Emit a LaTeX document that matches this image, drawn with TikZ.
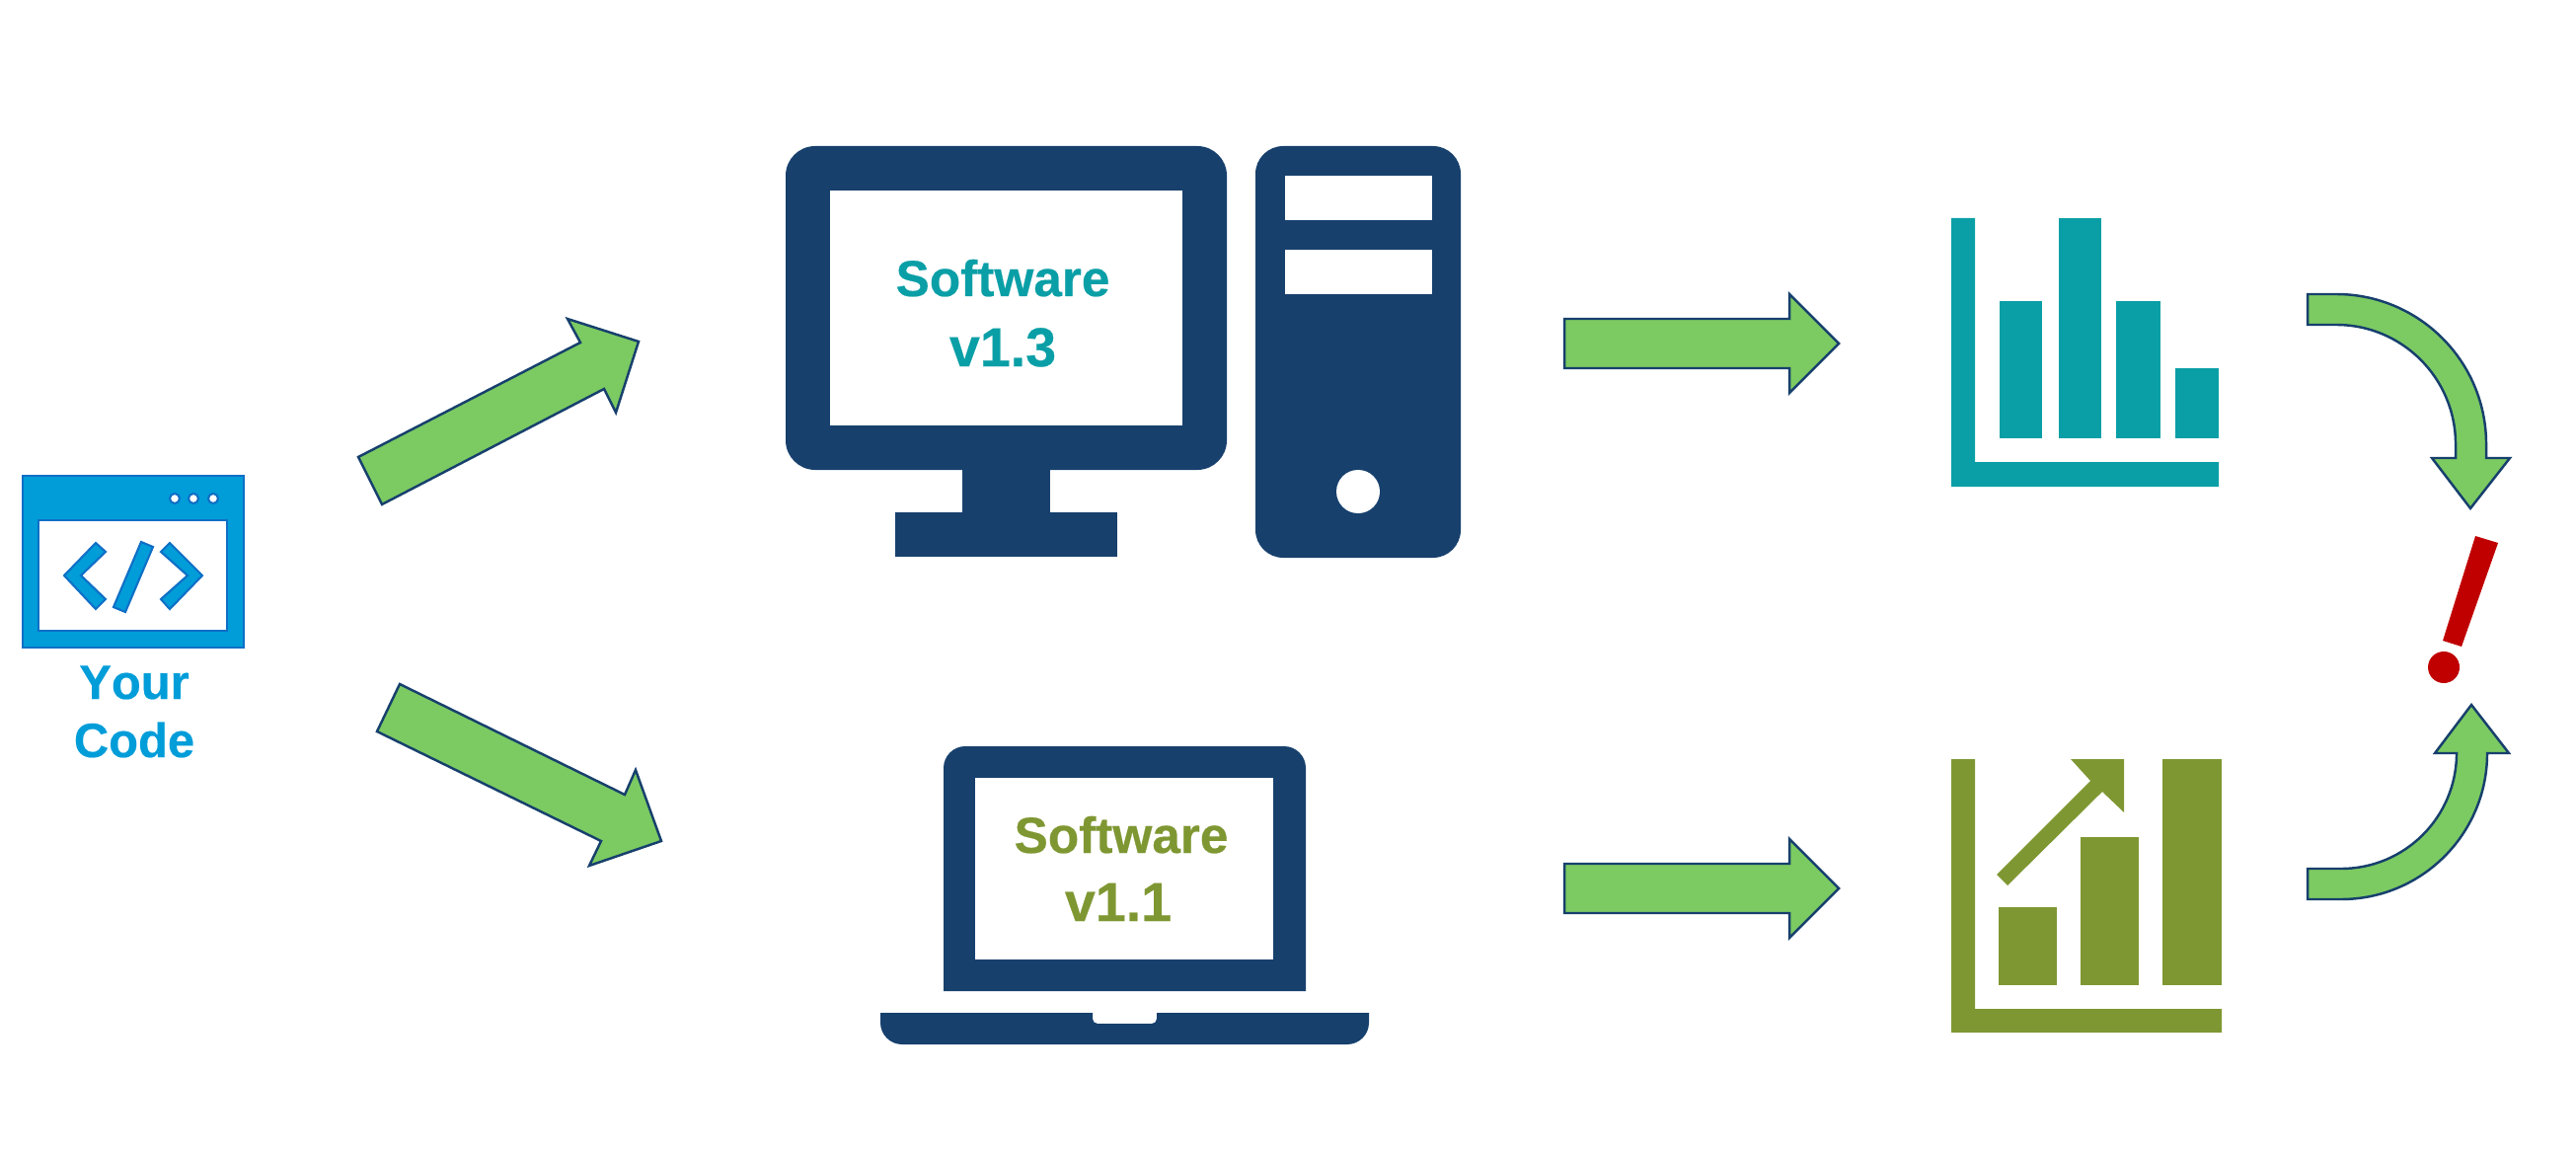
\documentclass[tikz,border=0pt]{standalone}
\usepackage{fontspec}
\setmainfont{Liberation Sans}
\definecolor{navy}{HTML}{17406D}
\definecolor{codeblue}{HTML}{009DD9}
\definecolor{edgeblue}{HTML}{0F6FC6}
\definecolor{teal}{HTML}{0A9FA6}
\definecolor{olive}{HTML}{7F9732}
\definecolor{arrowgreen}{HTML}{7CCA62}
\definecolor{alarmred}{HTML}{C00000}
\tikzset{
  blockarrow/.style={fill=arrowgreen,draw=navy,line width=0.7pt,line join=miter},
  icon/.style={fill=navy,draw=none},
  hole/.style={fill=white,draw=none},
  codepart/.style={fill=codeblue,draw=edgeblue,line width=0.6pt},
  softtxt/.style={inner sep=0pt,anchor=base,font=\fontsize{14.6}{17}\selectfont\bfseries\addfontfeatures{FakeBold=0.4}},
  vertxt/.style={inner sep=0pt,anchor=base,font=\fontsize{15.8}{17}\selectfont\bfseries\addfontfeatures{FakeBold=0.4}},
  codetxt/.style={inner sep=0pt,anchor=base,text=codeblue,font=\fontsize{13.9}{17}\selectfont\bfseries\addfontfeatures{FakeBold=0.4,Kerning=Off}}
}
\begin{document}
\begin{tikzpicture}[x=0.01cm,y=-0.01cm]
  \useasboundingbox (0,0) rectangle (2610,1164);
  % code window
  \draw[codepart] (23,482) rectangle (247,656);
  \draw[hole,draw=edgeblue,line width=0.6pt] (39,527) rectangle (230,639);
  \foreach \dotx in {177,196,216}
    \draw[fill=white,draw=edgeblue,line width=0.6pt] (\dotx,505) circle (5);
  \draw[codepart] (97,550) -- (107,559) -- (82,583) -- (107,607) -- (97,617) -- (65,583) -- cycle;
  \draw[codepart] (143,549) -- (155,554) -- (127,620) -- (115,615) -- cycle;
  \draw[codepart] (172,550) -- (205,583) -- (172,617) -- (163,607) -- (190,583) -- (163,559) -- cycle;
  \node[codetxt] (your) at (136,708) {Your};
  \node[codetxt] (code) at (136,767) {Code};
  % desktop
  \fill[icon,rounded corners=8.5pt] (796,148) rectangle (1243,476);
  \fill[hole] (841,193) rectangle (1198,431);
  \fill[icon] (975,470) rectangle (1064,519);
  \fill[icon] (907,519) rectangle (1132,564);
  \fill[icon,rounded corners=8pt] (1272,148) rectangle (1480,565);
  \fill[hole] (1302,178) rectangle (1451,223);
  \fill[hole] (1302,253) rectangle (1451,298);
  \fill[hole] (1376,498) circle (22);
  \node[softtxt,text=teal] (softa) at (1016,300) {Software};
  \node[vertxt,text=teal] (vera) at (1016,371) {v1.3};
  % laptop
  \fill[icon] (956,1004) -- (956,778) arc (180:270:22) -- (1301,756) arc (270:360:22) -- (1323,1004) -- cycle;
  \fill[hole] (988,788) rectangle (1290,972);
  \fill[icon] (892,1026) -- (1107,1026) -- (1107,1032) arc (180:90:5) -- (1167,1037) arc (90:0:5) -- (1172,1026) -- (1387,1026) -- (1387,1036) arc (0:90:22) -- (914,1058) arc (90:180:22) -- cycle;
  \node[softtxt,text=olive] (softb) at (1136,864) {Software};
  \node[vertxt,text=olive] (verb) at (1133,933) {v1.1};
  % straight arrows
  \draw[blockarrow] (363,463) -- (588,347) -- (575,323) -- (647,346) -- (624,418) -- (612,394) -- (387,511) -- cycle;
  \draw[blockarrow] (405,693) -- (633,805) -- (644,780) -- (670,852) -- (597,877) -- (609,852) -- (382,741) -- cycle;
  \foreach \rowy in {348,900}
    \draw[blockarrow] (1585,\rowy-25) -- (1813,\rowy-25) -- (1813,\rowy-50) -- (1863,\rowy) -- (1813,\rowy+50) -- (1813,\rowy+25) -- (1585,\rowy+25) -- cycle;
  % teal chart
  \fill[teal] (1977,221) -- (2001,221) -- (2001,468) -- (2248,468) -- (2248,493) -- (1977,493) -- cycle;
  \fill[teal] (2026,305) rectangle (2069,444);
  \fill[teal] (2086,221) rectangle (2129,444);
  \fill[teal] (2144,305) rectangle (2189,444);
  \fill[teal] (2204,373) rectangle (2248,444);
  % olive chart
  \fill[olive] (1977,769) -- (2001,769) -- (2001,1022) -- (2251,1022) -- (2251,1046) -- (1977,1046) -- cycle;
  \fill[olive] (2025,919) rectangle (2084,998);
  \fill[olive] (2108,848) rectangle (2167,998);
  \fill[olive] (2191,769) rectangle (2251,998);
  \fill[olive] (2023,886) -- (2118,791) -- (2098,769) -- (2152,769) -- (2152,823) -- (2130,802) -- (2034,897) -- cycle;
  % curved arrows
  \draw[blockarrow] (2338,298) -- (2367,298) arc (-90:0:152) -- (2519,464) -- (2543,464) -- (2503,515) -- (2464,464) -- (2488,464) -- (2488,450) arc (0:-90:121) -- (2338,329) -- cycle;
  \draw[blockarrow] (2338,880) -- (2372,880) arc (90:0:117) -- (2489,763) -- (2467,763) -- (2504,714) -- (2542,763) -- (2520,763) arc (0:90:148) -- (2338,911) -- cycle;
  % exclamation
  \fill[alarmred] (2508,543) -- (2531,550) -- (2494,655) -- (2475,649) -- cycle;
  \fill[alarmred] (2476,676) circle (16);
\end{tikzpicture}
\end{document}
